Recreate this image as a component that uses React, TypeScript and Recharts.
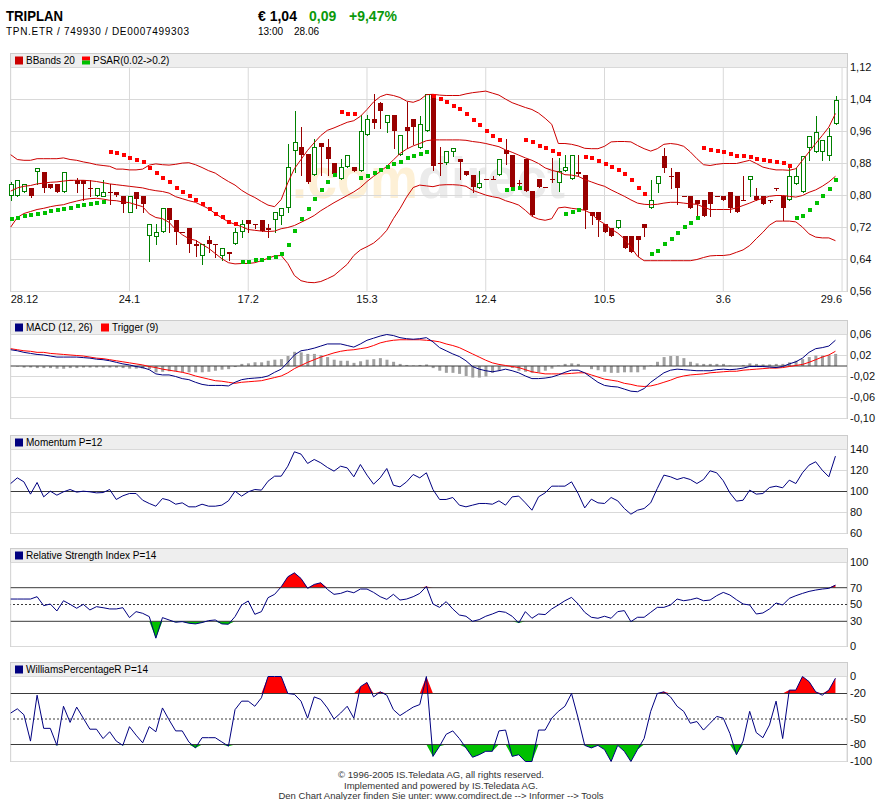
import React from 'react';
import {
  ComposedChart,
  Bar,
  Line,
  Scatter,
  Area,
  XAxis,
  YAxis,
  CartesianGrid,
  ReferenceLine,
} from 'recharts';

// one step per trading day, a date tick every 18 days
const dateTicks = [0, 18, 36, 54, 72, 90, 108, 126];
const dateLabels = ['28.12', '24.1', '17.2', '15.3', '12.4', '10.5', '3.6', '29.6'];

const priceTicks = [0.56, 0.64, 0.72, 0.8, 0.88, 0.96, 1.04, 1.12];
const macdTicks = [-0.1, -0.06, -0.02, 0.02, 0.06];
const momentumTicks = [60, 80, 100, 120, 140];
const rsiTicks = [0, 30, 50, 70, 100];
const williamsTicks = [-100, -80, -50, -20, 0];

const open = [
  0.80, 0.80, 0.81, 0.82, 0.86, 0.86, 0.83, 0.83, 0.81, 0.84,
  0.84, 0.84, 0.82, 0.80, 0.798, 0.81, 0.81, 0.80, 0.758, 0.81,
  0.80, 0.698, 0.698, 0.708, 0.769, 0.74, 0.71, 0.719, 0.68, 0.65,
  0.689, 0.68, 0.65, 0.66, 0.679, 0.708, 0.739, 0.728, 0.739, 0.72,
  0.74, 0.75, 0.77, 0.911, 0.922, 0.903, 0.851, 0.932, 0.922, 0.882,
  0.841, 0.871, 0.871, 0.861, 0.951, 0.991, 1.031, 0.98, 1.001, 0.901,
  0.972, 0.991, 0.92, 0.961, 1.053, 0.882, 0.88, 0.911, 0.891, 0.861,
  0.851, 0.82, 0.841, 0.842, 0.851, 0.914, 0.901, 0.831, 0.891, 0.811,
  0.841, 0.822, 0.842, 0.832, 0.861, 0.841, 0.86, 0.851, 0.76, 0.76,
  0.73, 0.72, 0.72, 0.70, 0.70, 0.70, 0.73, 0.77, 0.83, 0.90,
  0.85, 0.86, 0.80, 0.80, 0.79, 0.79, 0.81, 0.80, 0.80, 0.81,
  0.80, 0.79, 0.84, 0.80, 0.80, 0.79, 0.82, 0.80, 0.79, 0.83,
  0.81, 0.92, 0.91, 0.91, 0.90, 0.98,
];
const high = [
  0.835, 0.84, 0.83, 0.82, 0.87, 0.86, 0.83, 0.83, 0.86, 0.84,
  0.845, 0.84, 0.84, 0.82, 0.839, 0.83, 0.81, 0.80, 0.80, 0.81,
  0.80, 0.729, 0.729, 0.769, 0.769, 0.74, 0.71, 0.719, 0.689, 0.679,
  0.70, 0.68, 0.669, 0.66, 0.72, 0.739, 0.739, 0.73, 0.739, 0.729,
  0.76, 0.77, 0.93, 1.011, 0.972, 0.903, 0.941, 0.932, 0.941, 0.882,
  0.891, 0.901, 0.871, 1.001, 1.001, 1.053, 1.035, 1.001, 1.001, 0.951,
  1.033, 0.991, 1.0, 1.053, 1.053, 0.922, 0.911, 0.92, 0.891, 0.861,
  0.851, 0.861, 0.841, 0.85, 0.891, 0.941, 0.901, 0.84, 0.891, 0.811,
  0.841, 0.822, 0.893, 0.893, 0.901, 0.901, 0.901, 0.851, 0.76, 0.76,
  0.73, 0.72, 0.74, 0.70, 0.70, 0.70, 0.73, 0.84, 0.85, 0.92,
  0.87, 0.86, 0.80, 0.80, 0.79, 0.79, 0.81, 0.80, 0.80, 0.81,
  0.80, 0.85, 0.85, 0.82, 0.80, 0.79, 0.82, 0.80, 0.87, 0.87,
  0.90, 0.95, 1.00, 0.94, 0.97, 1.05,
];
const low = [
  0.79, 0.80, 0.81, 0.797, 0.83, 0.81, 0.82, 0.81, 0.81, 0.84,
  0.81, 0.79, 0.80, 0.80, 0.798, 0.78, 0.80, 0.758, 0.758, 0.769,
  0.758, 0.637, 0.679, 0.708, 0.708, 0.679, 0.71, 0.658, 0.65, 0.629,
  0.658, 0.647, 0.639, 0.639, 0.679, 0.697, 0.708, 0.719, 0.711, 0.697,
  0.71, 0.73, 0.76, 0.859, 0.851, 0.832, 0.851, 0.851, 0.851, 0.855,
  0.841, 0.871, 0.861, 0.861, 0.951, 0.97, 0.97, 0.959, 0.92, 0.901,
  0.918, 0.93, 0.92, 0.961, 0.865, 0.851, 0.88, 0.90, 0.842, 0.852,
  0.809, 0.82, 0.841, 0.841, 0.851, 0.88, 0.822, 0.82, 0.811, 0.752,
  0.822, 0.821, 0.834, 0.811, 0.861, 0.841, 0.851, 0.72, 0.73, 0.70,
  0.71, 0.70, 0.72, 0.67, 0.66, 0.65, 0.70, 0.77, 0.81, 0.86,
  0.82, 0.78, 0.80, 0.77, 0.75, 0.75, 0.75, 0.80, 0.79, 0.76,
  0.76, 0.788, 0.80, 0.79, 0.78, 0.785, 0.815, 0.74, 0.79, 0.83,
  0.81, 0.89, 0.91, 0.89, 0.89, 0.98,
];
const close = [
  0.83, 0.84, 0.83, 0.80, 0.87, 0.82, 0.82, 0.81, 0.86, 0.84,
  0.83, 0.83, 0.82, 0.82, 0.81, 0.808, 0.802, 0.781, 0.80, 0.792,
  0.781, 0.729, 0.71, 0.769, 0.74, 0.711, 0.71, 0.679, 0.676, 0.679,
  0.679, 0.678, 0.669, 0.656, 0.71, 0.729, 0.729, 0.726, 0.711, 0.716,
  0.76, 0.77, 0.872, 0.933, 0.903, 0.832, 0.922, 0.922, 0.893, 0.855,
  0.871, 0.901, 0.861, 0.961, 0.991, 0.982, 1.012, 1.001, 0.962, 0.951,
  0.962, 0.972, 0.98, 1.053, 0.872, 0.88, 0.911, 0.92, 0.883, 0.852,
  0.822, 0.832, 0.841, 0.841, 0.891, 0.903, 0.822, 0.829, 0.811, 0.752,
  0.822, 0.821, 0.84, 0.861, 0.871, 0.901, 0.855, 0.763, 0.75, 0.74,
  0.71, 0.70, 0.74, 0.67, 0.66, 0.69, 0.72, 0.79, 0.85, 0.87,
  0.848, 0.82, 0.80, 0.77, 0.78, 0.75, 0.78, 0.80, 0.79, 0.77,
  0.76, 0.788, 0.85, 0.79, 0.78, 0.788, 0.818, 0.77, 0.85, 0.85,
  0.90, 0.95, 0.96, 0.94, 0.95, 1.04,
];

const bbUpper = [
  0.902, 0.890, 0.888, 0.888, 0.892, 0.892, 0.892, 0.892, 0.894, 0.890,
  0.888, 0.884, 0.881, 0.877, 0.875, 0.873, 0.866, 0.866, 0.864, 0.864,
  0.866, 0.876, 0.879, 0.877, 0.876, 0.878, 0.881, 0.882, 0.877, 0.870,
  0.862, 0.856, 0.845, 0.835, 0.826, 0.813, 0.803, 0.795, 0.785, 0.776,
  0.772, 0.79, 0.832, 0.867, 0.89, 0.913, 0.932, 0.95, 0.963, 0.969,
  0.976, 0.983, 0.987, 0.998, 1.015, 1.034, 1.047, 1.053, 1.05, 1.045,
  1.036, 1.033, 1.039, 1.052, 1.053, 1.051, 1.05, 1.05, 1.05, 1.054,
  1.057, 1.059, 1.061, 1.056, 1.051, 1.041, 1.032, 1.026, 1.02, 1.015,
  1.006, 0.993, 0.978, 0.93, 0.93, 0.928, 0.924, 0.918, 0.917, 0.917,
  0.923, 0.934, 0.935, 0.935, 0.934, 0.925, 0.917, 0.911, 0.917, 0.928,
  0.93, 0.928, 0.923, 0.909, 0.892, 0.877, 0.875, 0.878, 0.88, 0.88,
  0.88, 0.884, 0.888, 0.88, 0.871, 0.867, 0.864, 0.864, 0.863, 0.867,
  0.888, 0.909, 0.93, 0.95, 0.971, 1.005,
];
const bbMiddle = [
  0.811, 0.819, 0.823, 0.825, 0.829, 0.831, 0.833, 0.834, 0.836, 0.838,
  0.838, 0.838, 0.837, 0.835, 0.832, 0.829, 0.827, 0.825, 0.823, 0.821,
  0.819, 0.815, 0.812, 0.81, 0.806, 0.797, 0.792, 0.787, 0.783, 0.775,
  0.767, 0.755, 0.744, 0.734, 0.728, 0.722, 0.715, 0.713, 0.711, 0.71,
  0.711, 0.717, 0.72, 0.725, 0.733, 0.741, 0.75, 0.762, 0.772, 0.782,
  0.791, 0.80, 0.809, 0.82, 0.835, 0.848, 0.86, 0.873, 0.889, 0.905,
  0.916, 0.924, 0.93, 0.937, 0.939, 0.939, 0.939, 0.939, 0.939, 0.938,
  0.935, 0.933, 0.93, 0.926, 0.922, 0.914, 0.908, 0.901, 0.894, 0.888,
  0.88, 0.869, 0.863, 0.859, 0.852, 0.851, 0.848, 0.84, 0.834, 0.828,
  0.823, 0.814, 0.806, 0.798, 0.789, 0.781, 0.778, 0.777, 0.778, 0.781,
  0.783, 0.783, 0.781, 0.779, 0.778, 0.771, 0.765, 0.765, 0.765, 0.765,
  0.769, 0.775, 0.781, 0.788, 0.793, 0.798, 0.80, 0.80, 0.798, 0.796,
  0.80, 0.808, 0.814, 0.823, 0.834, 0.848,
];
const bbLower = [
  0.721, 0.745, 0.755, 0.76, 0.765, 0.768, 0.772, 0.775, 0.777, 0.782,
  0.786, 0.790, 0.792, 0.793, 0.791, 0.788, 0.787, 0.784, 0.782, 0.777,
  0.772, 0.754, 0.745, 0.742, 0.733, 0.715, 0.702, 0.692, 0.688, 0.678,
  0.668, 0.655, 0.642, 0.632, 0.629, 0.63, 0.63, 0.632, 0.637, 0.643,
  0.649, 0.65, 0.63, 0.60, 0.587, 0.583, 0.582, 0.585, 0.592, 0.60,
  0.614, 0.628, 0.65, 0.664, 0.672, 0.681, 0.695, 0.713, 0.742, 0.767,
  0.796, 0.82, 0.826, 0.824, 0.822, 0.826, 0.827, 0.827, 0.826, 0.823,
  0.813, 0.807, 0.801, 0.797, 0.794, 0.787, 0.782, 0.776, 0.763, 0.748,
  0.741, 0.738, 0.742, 0.769, 0.771, 0.768, 0.766, 0.763, 0.755, 0.739,
  0.729, 0.716, 0.706, 0.692, 0.671, 0.648, 0.637, 0.637, 0.637, 0.637,
  0.637, 0.637, 0.637, 0.637, 0.64, 0.645, 0.649, 0.65, 0.65, 0.652,
  0.658, 0.664, 0.675, 0.692, 0.708, 0.726, 0.736, 0.736, 0.736, 0.734,
  0.721, 0.704, 0.696, 0.694, 0.694, 0.687,
];
const psar = [
  0.741, 0.744, 0.749, 0.752, 0.754, 0.757, 0.761, 0.763, 0.767, 0.77,
  0.773, 0.777, 0.779, 0.781, 0.783, 0.909, 0.906, 0.902, 0.895, 0.89,
  0.884, 0.869, 0.856, 0.844, 0.834, 0.818, 0.81, 0.798, 0.788, 0.778,
  0.767, 0.754, 0.746, 0.735, 0.728, 0.633, 0.635, 0.638, 0.64, 0.643,
  0.646, 0.654, 0.677, 0.711, 0.742, 0.767, 0.792, 0.815, 0.834, 0.852,
  1.008, 1.005, 1.003, 0.844, 0.849, 0.857, 0.865, 0.872, 0.88, 0.884,
  0.893, 0.899, 0.905, 0.909, 1.049, 1.041, 1.033, 1.025, 1.016, 1.005,
  0.99, 0.976, 0.962, 0.95, 0.94, 0.815, 0.817, 0.82, 0.94, 0.933,
  0.925, 0.918, 0.912, 0.905, 0.755, 0.759, 0.763, 0.896, 0.894, 0.886,
  0.878, 0.871, 0.864, 0.853, 0.839, 0.818, 0.803, 0.655, 0.662, 0.679,
  0.691, 0.706, 0.721, 0.731, 0.743, 0.919, 0.915, 0.911, 0.909, 0.903,
  0.9, 0.898, 0.896, 0.892, 0.89, 0.886, 0.885, 0.881, 0.873, 0.744,
  0.75, 0.765, 0.781, 0.798, 0.817, 0.839,
];

const macdLine = [
  0.031, 0.029, 0.026, 0.024, 0.022, 0.021, 0.019, 0.017, 0.017, 0.017,
  0.017, 0.016, 0.015, 0.013, 0.012, 0.010, 0.007, 0.004, 0.002, -0.001,
  -0.003, -0.007, -0.015, -0.017, -0.017, -0.020, -0.024, -0.026, -0.031, -0.035,
  -0.037, -0.037, -0.037, -0.038, -0.031, -0.026, -0.024, -0.023, -0.022, -0.019,
  -0.012, -0.006, 0.007, 0.021, 0.029, 0.031, 0.034, 0.038, 0.042, 0.042,
  0.042, 0.039, 0.036, 0.042, 0.049, 0.053, 0.057, 0.060, 0.058, 0.054,
  0.052, 0.051, 0.052, 0.054, 0.046, 0.035, 0.029, 0.023, 0.018, 0.010,
  -0.001, -0.006, -0.009, -0.011, -0.009, -0.006, -0.009, -0.013, -0.019, -0.024,
  -0.024, -0.023, -0.021, -0.017, -0.012, -0.008, -0.008, -0.013, -0.022, -0.031,
  -0.037, -0.039, -0.040, -0.044, -0.048, -0.049, -0.043, -0.031, -0.022, -0.013,
  -0.008, -0.006, -0.007, -0.008, -0.009, -0.009, -0.009, -0.007, -0.006, -0.007,
  -0.006, -0.004, -0.001, -0.001, -0.001, -0.002, -0.003, -0.001, 0.004, 0.008,
  0.015, 0.026, 0.033, 0.035, 0.038, 0.049,
];
const macdTrigger = [
  0.033, 0.031, 0.029, 0.028, 0.026, 0.026, 0.024, 0.023, 0.022, 0.021,
  0.020, 0.019, 0.017, 0.015, 0.014, 0.012, 0.010, 0.008, 0.006, 0.004,
  0.002, -0.001, -0.003, -0.006, -0.008, -0.010, -0.012, -0.015, -0.019, -0.022,
  -0.025, -0.028, -0.029, -0.031, -0.033, -0.031, -0.030, -0.029, -0.028, -0.025,
  -0.022, -0.019, -0.013, -0.005, 0.001, 0.007, 0.012, 0.017, 0.021, 0.025,
  0.028, 0.030, 0.031, 0.033, 0.035, 0.039, 0.044, 0.047, 0.049, 0.050,
  0.050, 0.050, 0.050, 0.049, 0.048, 0.046, 0.042, 0.039, 0.035, 0.029,
  0.023, 0.017, 0.011, 0.006, 0.003, 0.001, -0.001, -0.003, -0.007, -0.011,
  -0.013, -0.015, -0.015, -0.015, -0.015, -0.014, -0.013, -0.013, -0.017, -0.021,
  -0.025, -0.027, -0.029, -0.033, -0.035, -0.038, -0.039, -0.038, -0.035, -0.031,
  -0.027, -0.022, -0.019, -0.017, -0.016, -0.015, -0.013, -0.012, -0.011, -0.010,
  -0.010, -0.008, -0.007, -0.006, -0.005, -0.004, -0.004, -0.003, -0.001, 0.001,
  0.003, 0.007, 0.012, 0.017, 0.021, 0.028,
];
const macdHist = [
  0, -0.001, -0.003, -0.003, -0.004, -0.004, -0.004, -0.005, -0.005, -0.004,
  -0.004, -0.003, -0.003, -0.003, -0.003, -0.003, -0.003, -0.004, -0.005, -0.005,
  -0.005, -0.006, -0.012, -0.011, -0.010, -0.010, -0.012, -0.012, -0.012, -0.012,
  -0.011, -0.009, -0.007, -0.006, -0.002, 0.004, 0.005, 0.007, 0.007, 0.010,
  0.012, 0.013, 0.019, 0.027, 0.026, 0.023, 0.023, 0.021, 0.017, 0.012,
  0.010, 0.010, 0.006, 0.009, 0.012, 0.013, 0.015, 0.012, 0.008, 0.004,
  0.002, 0.001, 0.002, 0.003, -0.004, -0.009, -0.013, -0.013, -0.015, -0.019,
  -0.022, -0.022, -0.020, -0.013, -0.009, 0, -0.004, -0.009, -0.011, -0.013,
  -0.012, -0.009, -0.005, 0.001, 0.004, 0.005, 0.004, 0, -0.006, -0.008,
  -0.011, -0.013, -0.013, -0.012, -0.012, -0.012, -0.007, 0.001, 0.008, 0.017,
  0.019, 0.019, 0.015, 0.008, 0.005, 0.004, 0.004, 0.004, 0.004, 0.001,
  0, 0.002, 0.005, 0.004, 0.003, 0.003, 0.004, 0.004, 0.007, 0.010,
  0.013, 0.017, 0.020, 0.020, 0.021, 0.023,
];

const momentum = [
  107.6, 113, 109.2, 97.5, 108.6, 94.9, 100.3, 96.5, 99.7, 101.9,
  99.4, 100.3, 99.7, 98.7, 99, 101.9, 92.4, 95.9, 98.1, 98.1,
  91.7, 88.6, 86, 93.3, 91.7, 87.9, 89.2, 85.4, 85.4, 87.9,
  86, 86, 87, 91.1, 100.3, 95.6, 99.7, 101.9, 101.3, 109.8,
  114.6, 114.6, 124.1, 137.8, 135.6, 126.7, 130.5, 127.3, 122.9, 119.4,
  124.1, 122.5, 114, 125.7, 115.6, 107, 113, 121.9, 106, 104.4,
  109.2, 116.2, 113, 117.8, 101.9, 92.4, 92.4, 94.3, 87, 85.4,
  87, 88.6, 88.6, 87.9, 91.1, 87, 94.9, 95.6, 89.2, 82.2,
  94.9, 98.7, 105.1, 105.1, 105.1, 109.2, 98.1, 84.4, 92.7, 89.2,
  88.6, 94.3, 91.1, 83.8, 78.4, 82.2, 83.8, 89.2, 102.9, 115.6,
  114, 111.4, 113.3, 111.4, 107.6, 111.4, 119.7, 117.8, 110.2, 98.7,
  90.8, 91.7, 101.3, 97.5, 98.1, 103.8, 105.1, 103.5, 110.8, 107.6,
  117.8, 125.1, 128.3, 120.3, 114, 133.7,
];

const rsi = [
  56.5, 56.5, 56.5, 56.5, 59.3, 48.6, 50.6, 42.3, 54.5, 50.2,
  45.5, 50.2, 43.5, 47.4, 46.2, 44.7, 44.7, 46.2, 34.4, 41.5,
  39.5, 35.6, 9.9, 34.4, 31.6, 28.9, 29.6, 27.7, 26.9, 28.5,
  30.8, 31.6, 26.9, 26.5, 35.6, 49.4, 54.2, 38.3, 41.5, 58.1,
  62.1, 71.1, 83, 87.7, 81, 69.2, 73.9, 75.9, 68, 62.1,
  63.2, 66, 64, 68.4, 68.4, 64.4, 59.3, 56.1, 62.1, 55.3,
  56.5, 59.3, 63.2, 71.5, 50.6, 46.6, 53.4, 44.7, 37.5, 36,
  30, 32, 36, 38.7, 41.9, 40.7, 36, 28, 41.5, 33.6,
  38.7, 38, 44.7, 49.4, 54.5, 58.5, 50.6, 40.7, 34.8, 33.6,
  36, 33.6, 41.5, 42.7, 29.6, 34.8, 34.8, 40.7, 46.6, 46.6,
  49.4, 56.5, 54.5, 55.7, 57.7, 54.5, 55.3, 60.5, 64.4, 61.3,
  55.7, 50.6, 49.4, 38.7, 39.9, 44.7, 51.8, 49.4, 57.3, 60.5,
  63.2, 65.6, 67.2, 68.4, 69.2, 73.1,
];

const williamsR = [
  -43, -38, -45, -76, -22, -61, -61, -81, -35, -54,
  -36, -49, -62, -62, -73, -65, -76, -81, -59, -69,
  -78, -59, -65, -37, -51, -64, -64, -77, -84, -72,
  -72, -72, -77, -82, -39, -29, -29, -35, -25, 0,
  0, 0, -20, -21, -29, -49, -24, -27, -37, -50,
  -43, -35, -49, -12, -7, -24, -18, -22, -39, -46,
  -41, -36, -33, 0, -94, -82, -68, -64, -73, -84,
  -95, -92, -88, -88, -64, -63, -94, -92, -100, -100,
  -63, -63, -49, -41, -35, -20, -49, -81, -84, -81,
  -86, -100, -81, -88, -100, -86, -73, -41, -20, -18,
  -24, -35, -41, -55, -53, -63, -55, -47, -49, -67,
  -92, -76, -41, -66, -72, -57, -29, -73, -16, -16,
  0, -6, -18, -22, -16, -2,
];

const rows = close.map((c, i) => ({
  i,
  o: open[i],
  h: high[i],
  l: low[i],
  c,
  bu: bbUpper[i],
  bm: bbMiddle[i],
  bl: bbLower[i],
  sar: psar[i],
  macd: macdLine[i],
  trig: macdTrigger[i],
  hist: macdHist[i],
  mom: momentum[i],
  rsi: rsi[i],
  wr: williamsR[i],
}));

const FONT = "'Liberation Sans', Arial, Helvetica, sans-serif";
const W = 878;
const PLOT_LEFT = 10.7;
const AXIS_W = 31;
const X_MAX = 126.75;
const GRID = '#d9d9d9';
const DARK = '#3a3a3a';
const NAVY = '#000080';
const GREEN = '#008000';
const DOWN = '#990000';
const RANGE_PAD = 0.0005;

const tickStyle = { fontSize: 11, fill: '#111', fontFamily: FONT };
const fmt2 = (v: number) => v.toFixed(2).replace('.', ',');
const fmtInt = (v: number) => String(v);

function renderCandle(props: any) {
  const { x, y, width, height, payload } = props;
  if (!payload || x == null || y == null) return <g />;
  const hiV = payload.h + RANGE_PAD;
  const loV = payload.l - RANGE_PAD;
  const top = Math.min(y, y + height);
  const k = Math.abs(height) / (hiV - loV);
  const py = (v: number) => top + (hiV - v) * k;
  const px = Math.round(x + width / 2);
  const up = payload.c > payload.o;
  const col = up ? GREEN : DOWN;
  const yO = py(payload.o);
  const yC = py(payload.c);
  const bTop = Math.round(Math.min(yO, yC));
  const bH = Math.max(1, Math.round(Math.abs(yO - yC)));
  return (
    <g>
      <line
        x1={px + 0.5}
        x2={px + 0.5}
        y1={Math.round(py(payload.h))}
        y2={Math.round(py(payload.l)) + 1}
        stroke={col}
      />
      {up ? (
        <rect x={px - 1.5} y={bTop + 0.5} width={4} height={Math.max(1, bH - 1)} fill="#fff" stroke={col} />
      ) : (
        <rect x={px - 2} y={bTop} width={5} height={bH} fill={col} />
      )}
    </g>
  );
}

function renderSar(props: any) {
  const { cx, cy, payload } = props;
  if (cx == null || cy == null || !payload) return <g />;
  const col = payload.sar < payload.c ? '#00c000' : '#ff0000';
  return <rect x={Math.round(cx) - 1} y={Math.round(cy) - 2} width={4} height={4} fill={col} />;
}

function renderDateTick(props: any) {
  const { x, y, payload } = props;
  const idx = dateTicks.indexOf(payload.value);
  const anchor = idx === 0 ? 'start' : idx === dateTicks.length - 1 ? 'end' : 'middle';
  return (
    <text x={x} y={y + 11} textAnchor={anchor} fontSize={11} fontFamily={FONT} fill="#111">
      {dateLabels[idx]}
    </text>
  );
}

function SubPanel({ top, height, domain, ticks, fmt, grid, children }: any) {
  return (
    <div style={{ position: 'absolute', left: 0, top }}>
      <ComposedChart
        width={W}
        height={height}
        data={rows}
        margin={{ top: 8.5, right: 0, bottom: 7.5, left: PLOT_LEFT }}
      >
        <CartesianGrid stroke={GRID} horizontal={grid} vertical />
        <XAxis
          type="number"
          dataKey="i"
          domain={[0, X_MAX]}
          ticks={dateTicks}
          interval={0}
          tick={false}
          axisLine={false}
          tickLine={false}
          height={0}
        />
        <YAxis
          orientation="right"
          width={AXIS_W}
          domain={domain}
          ticks={ticks}
          interval={0}
          tickFormatter={fmt}
          tick={tickStyle}
          axisLine={false}
          tickLine={false}
          tickSize={0}
          tickMargin={3}
        />
        {children}
      </ComposedChart>
    </div>
  );
}

// legend bars and frames, drawn behind the charts
const frames = [
  { barTop: 53.5, plotBottom: 291.5 },
  { barTop: 320.5, plotBottom: 418.5 },
  { barTop: 435.5, plotBottom: 533.5 },
  { barTop: 548.5, plotBottom: 646.5 },
  { barTop: 662.5, plotBottom: 761.5 },
];

function Key({ x, y, color, label, split }: any) {
  return (
    <g>
      {split ? (
        <>
          <rect x={x} y={y} width={8} height={4} fill="#ff0000" />
          <rect x={x} y={y + 4} width={8} height={4} fill="#00c000" />
        </>
      ) : (
        <rect x={x} y={y} width={8} height={8} fill={color} />
      )}
      <text x={x + 11} y={y + 7.5} fontSize={10} fontFamily={FONT} fill="#000">
        {label}
      </text>
    </g>
  );
}

function Backdrop() {
  return (
    <svg width={W} height={800} style={{ position: 'absolute', left: 0, top: 0 }}>
      <text
        x={292}
        y={198}
        fontSize={58}
        fontWeight="bold"
        fontFamily={FONT}
        textLength={273}
        lengthAdjust="spacingAndGlyphs"
      >
        <tspan fill="#fdf0d6">.com</tspan>
        <tspan fill="#ebebeb">direct</tspan>
      </text>
      {frames.map((f, k) => (
        <g key={k}>
          <rect x={10.5} y={f.barTop} width={837} height={f.plotBottom - f.barTop} fill="none" stroke="#cccccc" />
          <rect x={10.5} y={f.barTop} width={837} height={14} fill="#eeeeee" stroke="#cccccc" />
        </g>
      ))}
      <Key x={15} y={56.5} color="#cc0000" label="BBands 20" />
      <Key x={82} y={56.5} split label="PSAR(0.02->0.2)" />
      <Key x={15} y={323.5} color={NAVY} label="MACD (12, 26)" />
      <Key x={101} y={323.5} color="#ff0000" label="Trigger (9)" />
      <Key x={15} y={438.5} color={NAVY} label="Momentum P=12" />
      <Key x={15} y={551.5} color={NAVY} label="Relative Strength Index P=14" />
      <Key x={15} y={665.5} color={NAVY} label="WilliamsPercentageR P=14" />

      <text x={6} y={20.5} fontSize={14} fontWeight="bold" fontFamily={FONT} textLength={57} lengthAdjust="spacingAndGlyphs">
        TRIPLAN
      </text>
      <text x={6} y={35} fontSize={10} fontFamily={FONT} textLength={183} lengthAdjust="spacing">
        TPN.ETR / 749930 / DE0007499303
      </text>
      <text x={258} y={20.5} fontSize={14} fontWeight="bold" fontFamily={FONT}>
        € 1,04
      </text>
      <text x={309} y={20.5} fontSize={14} fontWeight="bold" fontFamily={FONT} fill="#0a990a">
        0,09
      </text>
      <text x={349} y={20.5} fontSize={14} fontWeight="bold" fontFamily={FONT} fill="#0a990a">
        +9,47%
      </text>
      <text x={258} y={35} fontSize={10} fontFamily={FONT}>
        13:00
      </text>
      <text x={294} y={35} fontSize={10} fontFamily={FONT}>
        28.06
      </text>

      <g fontSize={9} fontFamily={FONT} fill="#333" textAnchor="middle">
        <text x={441} y={778} textLength={206} lengthAdjust="spacingAndGlyphs">
          © 1996-2005 IS.Teledata AG, all rights reserved.
        </text>
        <text x={441} y={788.5} textLength={194} lengthAdjust="spacingAndGlyphs">
          Implemented and powered by IS.Teledata AG.
        </text>
        <text x={441} y={798.5} textLength={325} lengthAdjust="spacingAndGlyphs">
          Den Chart Analyzer finden Sie unter: www.comdirect.de --&gt; Informer --&gt; Tools
        </text>
      </g>
    </svg>
  );
}

const rsiHigh = (d: any) => [70, Math.max(70, d.rsi)];
const rsiLow = (d: any) => [Math.min(30, d.rsi), 30];
const wrHigh = (d: any) => [-20, Math.max(-20, d.wr)];
const wrLow = (d: any) => [Math.min(-80, d.wr), -80];
const candleRange = (d: any) => [d.l - RANGE_PAD, d.h + RANGE_PAD];

export default function App() {
  return (
    <div style={{ position: 'absolute', left: 0, top: 0, width: W, height: 800, background: '#fff', overflow: 'hidden' }}>
      <Backdrop />

      {/* price panel */}
      <div style={{ position: 'absolute', left: 0, top: 59 }}>
        <ComposedChart
          width={W}
          height={254.5}
          data={rows}
          margin={{ top: 8.5, right: 0, bottom: 2, left: PLOT_LEFT }}
        >
          <CartesianGrid stroke={GRID} />
          <XAxis
            type="number"
            dataKey="i"
            domain={[0, X_MAX]}
            ticks={dateTicks}
            interval={0}
            tick={renderDateTick}
            axisLine={false}
            tickLine={false}
            tickSize={0}
            tickMargin={0}
            height={20}
          />
          <YAxis
            orientation="right"
            width={AXIS_W}
            domain={[0.56, 1.12]}
            ticks={priceTicks}
            interval={0}
            tickFormatter={fmt2}
            tick={tickStyle}
            axisLine={false}
            tickLine={false}
            tickSize={0}
            tickMargin={3}
          />
          <Line dataKey="bu" type="linear" stroke="#cc0000" strokeWidth={1} dot={false} isAnimationActive={false} />
          <Line dataKey="bm" type="linear" stroke="#cc0000" strokeWidth={1} dot={false} isAnimationActive={false} />
          <Line dataKey="bl" type="linear" stroke="#cc0000" strokeWidth={1} dot={false} isAnimationActive={false} />
          <Bar dataKey={candleRange} barSize={5} shape={renderCandle} isAnimationActive={false} />
          <Scatter dataKey="sar" shape={renderSar} isAnimationActive={false} />
        </ComposedChart>
      </div>

      {/* MACD */}
      <SubPanel top={326} height={100} domain={[-0.1, 0.06]} ticks={macdTicks} fmt={fmt2} grid>
        <Bar dataKey="hist" barSize={3} fill="#a0a0a0" isAnimationActive={false} />
        <ReferenceLine y={0} stroke={DARK} />
        <Line dataKey="trig" type="linear" stroke="#ff0000" strokeWidth={1} dot={false} isAnimationActive={false} />
        <Line dataKey="macd" type="linear" stroke={NAVY} strokeWidth={1} dot={false} isAnimationActive={false} />
      </SubPanel>

      {/* Momentum */}
      <SubPanel top={441} height={100} domain={[60, 140]} ticks={momentumTicks} fmt={fmtInt} grid>
        <ReferenceLine y={100} stroke={DARK} />
        <Line dataKey="mom" type="linear" stroke={NAVY} strokeWidth={1} dot={false} isAnimationActive={false} />
      </SubPanel>

      {/* RSI */}
      <SubPanel top={554} height={100} domain={[0, 100]} ticks={rsiTicks} fmt={fmtInt} grid={false}>
        <Area dataKey={rsiHigh} type="linear" fill="#ff0000" fillOpacity={1} stroke="none" isAnimationActive={false} />
        <Area dataKey={rsiLow} type="linear" fill="#00c000" fillOpacity={1} stroke="none" isAnimationActive={false} />
        <ReferenceLine y={100} stroke={GRID} />
        <ReferenceLine y={0} stroke={GRID} />
        <ReferenceLine y={70} stroke={DARK} />
        <ReferenceLine y={30} stroke={DARK} />
        <ReferenceLine y={50} stroke={DARK} strokeDasharray="2 2" />
        <Line dataKey="rsi" type="linear" stroke={NAVY} strokeWidth={1} dot={false} isAnimationActive={false} />
      </SubPanel>

      {/* Williams %R */}
      <SubPanel top={668} height={101} domain={[-100, 0]} ticks={williamsTicks} fmt={fmtInt} grid={false}>
        <Area dataKey={wrHigh} type="linear" fill="#ff0000" fillOpacity={1} stroke="none" isAnimationActive={false} />
        <Area dataKey={wrLow} type="linear" fill="#00c000" fillOpacity={1} stroke="none" isAnimationActive={false} />
        <ReferenceLine y={0} stroke={GRID} />
        <ReferenceLine y={-100} stroke={GRID} />
        <ReferenceLine y={-20} stroke={DARK} />
        <ReferenceLine y={-80} stroke={DARK} />
        <ReferenceLine y={-50} stroke={DARK} strokeDasharray="2 2" />
        <Line dataKey="wr" type="linear" stroke={NAVY} strokeWidth={1} dot={false} isAnimationActive={false} />
      </SubPanel>
    </div>
  );
}
